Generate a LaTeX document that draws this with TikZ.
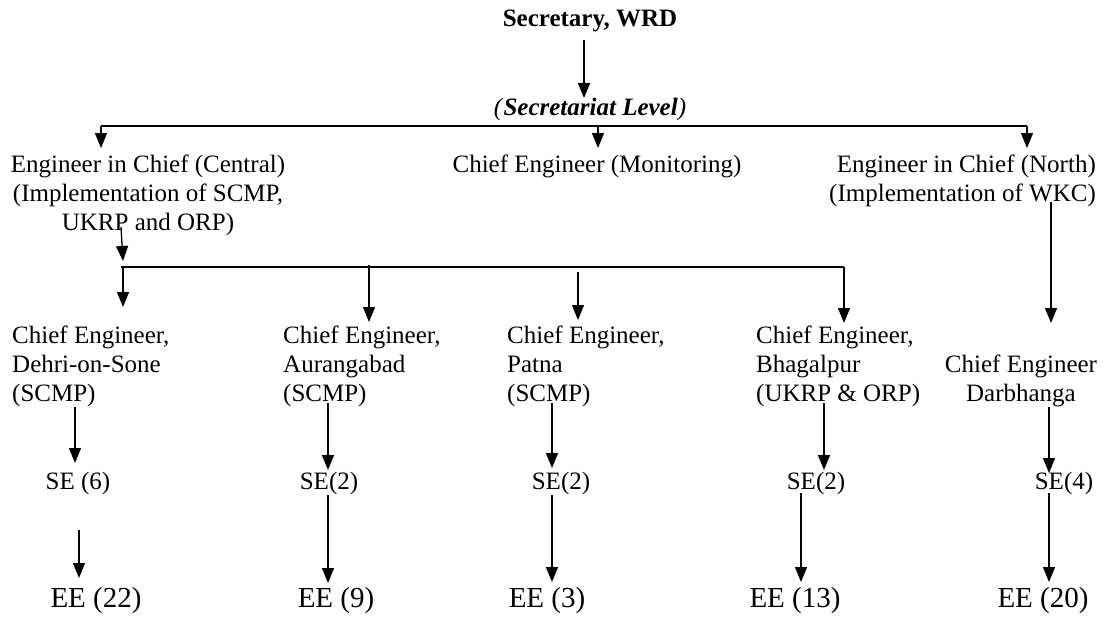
\documentclass[tikz,border=0pt]{standalone}
\usepackage{fontspec}
\setmainfont{Liberation Serif}
\usetikzlibrary{arrows.meta}
\begin{document}
\begin{tikzpicture}[x=1pt,y=-1pt,
  txt/.style={inner sep=0pt, font=\fontsize{25}{29}\selectfont},
  eetxt/.style={inner sep=0pt, font=\fontsize{29}{33}\selectfont},
  arr/.style={line width=1.3pt, -{Triangle[length=15pt,width=12pt]}},
  bus/.style={line width=1.3pt}]
\useasboundingbox (0,0) rectangle (1112,618);
% ---- nodes ----
\node[inner sep=0pt, anchor=base, font=\bfseries\fontsize{25}{29}\selectfont] (sec) at (590,27) {Secretary, WRD};
\node[txt, anchor=base] (lvl) at (590,115) {\textit{(}\textbf{\textit{Secretariat Level}}\textit{)}};
\node[txt, align=center, anchor=north] (eicC) at (148,155) {Engineer in Chief (Central)\\(Implementation of SCMP,\\UKRP and ORP)};
\node[txt, anchor=base] (mon) at (597,172) {Chief Engineer (Monitoring)};
\node[txt, align=right, anchor=north east] (eicN) at (1096,155) {Engineer in Chief (North)\\(Implementation of WKC)};
\node[txt, align=left, anchor=north west] (dehri) at (12,326) {Chief Engineer,\\Dehri-on-Sone\\(SCMP)};
\node[txt, align=left, anchor=north west] (aur) at (283,326) {Chief Engineer,\\Aurangabad\\(SCMP)};
\node[txt, align=left, anchor=north west] (pat) at (507,326) {Chief Engineer,\\Patna\\(SCMP)};
\node[txt, align=left, anchor=north west] (bha) at (756,326) {Chief Engineer,\\Bhagalpur\\(UKRP \& ORP)};
\node[txt, align=center, anchor=north] (dar) at (1021,355) {Chief Engineer\\Darbhanga};
\node[txt, anchor=base] (se1) at (78,489) {SE (6)};
\node[txt, anchor=base] (se2) at (329,489) {SE(2)};
\node[txt, anchor=base] (se3) at (561,489) {SE(2)};
\node[txt, anchor=base] (se4) at (816,489) {SE(2)};
\node[txt, anchor=base] (se5) at (1064,489) {SE(4)};
\node[eetxt, anchor=base] (ee1) at (96,607) {EE (22)};
\node[eetxt, anchor=base] (ee2) at (336,607) {EE (9)};
\node[eetxt, anchor=base] (ee3) at (547,607) {EE (3)};
\node[eetxt, anchor=base] (ee4) at (795,607) {EE (13)};
\node[eetxt, anchor=base] (ee5) at (1043,607) {EE (20)};
% ---- connector coordinates ----
\coordinate (secB) at (584,40);   \coordinate (lvlT) at (584,98);
\coordinate (busL) at (101,126);  \coordinate (busM) at (598,126); \coordinate (busR) at (1027,126);
\coordinate (eicCT) at (101,148); \coordinate (monT) at (598,148); \coordinate (eicNT) at (1027,148);
\coordinate (eicCB) at (121,227); \coordinate (busTwoT) at (123,261);
\coordinate (bus2L) at (121,267); \coordinate (bus2R) at (844,267);
\coordinate (d1a) at (123,267); \coordinate (d1b) at (123,307);
\coordinate (d2a) at (369,265); \coordinate (d2b) at (369,322);
\coordinate (d3a) at (578,272); \coordinate (d3b) at (578,320);
\coordinate (d4b) at (844,323);
\coordinate (eicNB) at (1051,202); \coordinate (darT) at (1051,323);
\coordinate (c1a) at (75,407);   \coordinate (c1b) at (75,463);
\coordinate (c2a) at (328,403);  \coordinate (c2b) at (328,470);
\coordinate (c3a) at (552,403);  \coordinate (c3b) at (552,468);
\coordinate (c4a) at (824,403);  \coordinate (c4b) at (824,470);
\coordinate (c5a) at (1049,407); \coordinate (c5b) at (1049,473);
\coordinate (s1a) at (79,530);   \coordinate (s1b) at (79,578);
\coordinate (s2a) at (328,495);  \coordinate (s2b) at (328,583);
\coordinate (s3a) at (552,495);  \coordinate (s3b) at (552,582);
\coordinate (s4a) at (801,493);  \coordinate (s4b) at (801,582);
\coordinate (s5a) at (1049,493); \coordinate (s5b) at (1049,582);
% ---- connectors ----
\draw[arr] (secB) -- (lvlT);
\draw[bus] (busL) -- (busR);
\draw[arr] (busL) -- (eicCT);
\draw[arr] (busM) -- (monT);
\draw[arr] (busR) -- (eicNT);
\draw[arr] (eicCB) -- (busTwoT);
\draw[bus] (bus2L) -- (bus2R);
\draw[arr] (d1a) -- (d1b);
\draw[arr] (d2a) -- (d2b);
\draw[arr] (d3a) -- (d3b);
\draw[arr] (bus2R) -- (d4b);
\draw[arr] (eicNB) -- (darT);
\draw[arr] (c1a) -- (c1b);
\draw[arr] (c2a) -- (c2b);
\draw[arr] (c3a) -- (c3b);
\draw[arr] (c4a) -- (c4b);
\draw[arr] (c5a) -- (c5b);
\draw[arr] (s1a) -- (s1b);
\draw[arr] (s2a) -- (s2b);
\draw[arr] (s3a) -- (s3b);
\draw[arr] (s4a) -- (s4b);
\draw[arr] (s5a) -- (s5b);
\end{tikzpicture}
\end{document}
